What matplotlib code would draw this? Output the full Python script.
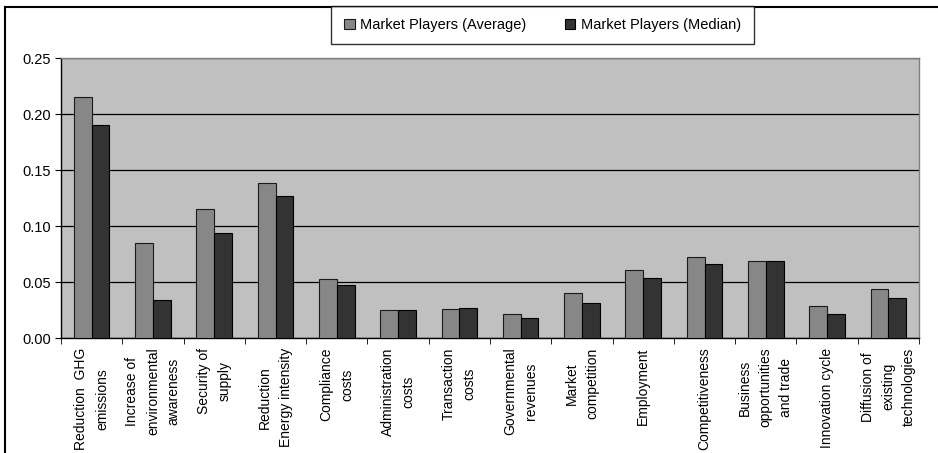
import matplotlib
matplotlib.use("Agg")
import matplotlib.pyplot as plt
import numpy as np
from matplotlib.lines import Line2D
from matplotlib.ticker import FixedLocator, FormatStrFormatter

plt.rcParams['font.family'] = ['Liberation Sans', 'DejaVu Sans']

categories = ["Reduction  GHG\nemissions", "Increase of\nenvironmental\nawareness",
              "Security of\nsupply", "Reduction\nEnergy intensity", "Compliance\ncosts",
              "Administration\ncosts", "Transaction\ncosts", "Governmental\nrevenues",
              "Market\ncompetition", "Employment", "Competitiveness",
              "Business\nopportunities\nand trade", "Innovation cycle",
              "Diffusion of\nexisting\ntechnologies"]
average = [0.215, 0.0845, 0.1155, 0.138, 0.053, 0.0253, 0.026, 0.0214, 0.040,
           0.0607, 0.0726, 0.0688, 0.0289, 0.0435]
median = [0.190, 0.034, 0.0935, 0.127, 0.047, 0.0247, 0.027, 0.0176, 0.0316,
          0.054, 0.0664, 0.0688, 0.0214, 0.036]
series_names = ["Market Players (Average)", "Market Players (Median)"]
yticks = [0.00, 0.05, 0.10, 0.15, 0.20, 0.25]

W, H = 938, 453
fig = plt.figure(figsize=(W / 100, H / 100), dpi=100)
ax = fig.add_axes([61 / W, 1 - 338 / H, 858 / W, 280 / H])
ax.set_facecolor('#C0C0C0')

x = np.arange(len(categories))
bw = 0.29
b1 = ax.bar(x - bw / 2, average, bw, color='#878787', edgecolor='#1a1a1a', linewidth=0.8,
            label=series_names[0], zorder=3)
b2 = ax.bar(x + bw / 2, median, bw, color='#333333', edgecolor='#000000', linewidth=0.8,
            label=series_names[1], zorder=3)

ax.set_xlim(-0.5, len(categories) - 0.5)
ax.set_ylim(0, 0.25)
ax.set_yticks(yticks)
ax.yaxis.set_major_formatter(FormatStrFormatter('%.2f'))
ax.yaxis.grid(True, color='black', linewidth=0.9, zorder=1)
ax.set_axisbelow(True)

ax.set_xticks(x)
ax.set_xticklabels(categories, rotation=90, ha='center', va='top',
                   multialignment='center', linespacing=1.6, fontsize=10)
ax.xaxis.set_minor_locator(FixedLocator(np.arange(-0.5, len(categories), 1.0)))
ax.tick_params(axis='x', which='major', length=0, pad=7)
ax.tick_params(axis='x', which='minor', length=4, direction='out', color='black')
ax.tick_params(axis='y', length=4, direction='out', labelsize=10.5, pad=3)

for s in ['top', 'right']:
    ax.spines[s].set_color('#808080')
    ax.spines[s].set_linewidth(1.0)
for s in ['left', 'bottom']:
    ax.spines[s].set_color('black')
    ax.spines[s].set_linewidth(1.0)

# legend
leg = fig.legend(handles=[b1, b2], loc='center',
                 bbox_to_anchor=((330 + 755) / 2 / W, 1 - 25 / H),
                 ncol=2, frameon=True, fancybox=False, shadow=False,
                 fontsize=10.5, handlelength=0.75, handleheight=0.75,
                 handletextpad=0.4, columnspacing=2.6, borderpad=0.85,
                 borderaxespad=0, edgecolor='black')
leg.get_frame().set_linewidth(1.0)

# outer border (chart frame)
fig.add_artist(Line2D([5 / W, 5 / W], [0, 1 - 7 / H], transform=fig.transFigure,
                      color='black', linewidth=1.5))
fig.add_artist(Line2D([5 / W, 1], [1 - 7 / H, 1 - 7 / H], transform=fig.transFigure,
                      color='black', linewidth=1.5))

fig.savefig('out.png', dpi=100)
